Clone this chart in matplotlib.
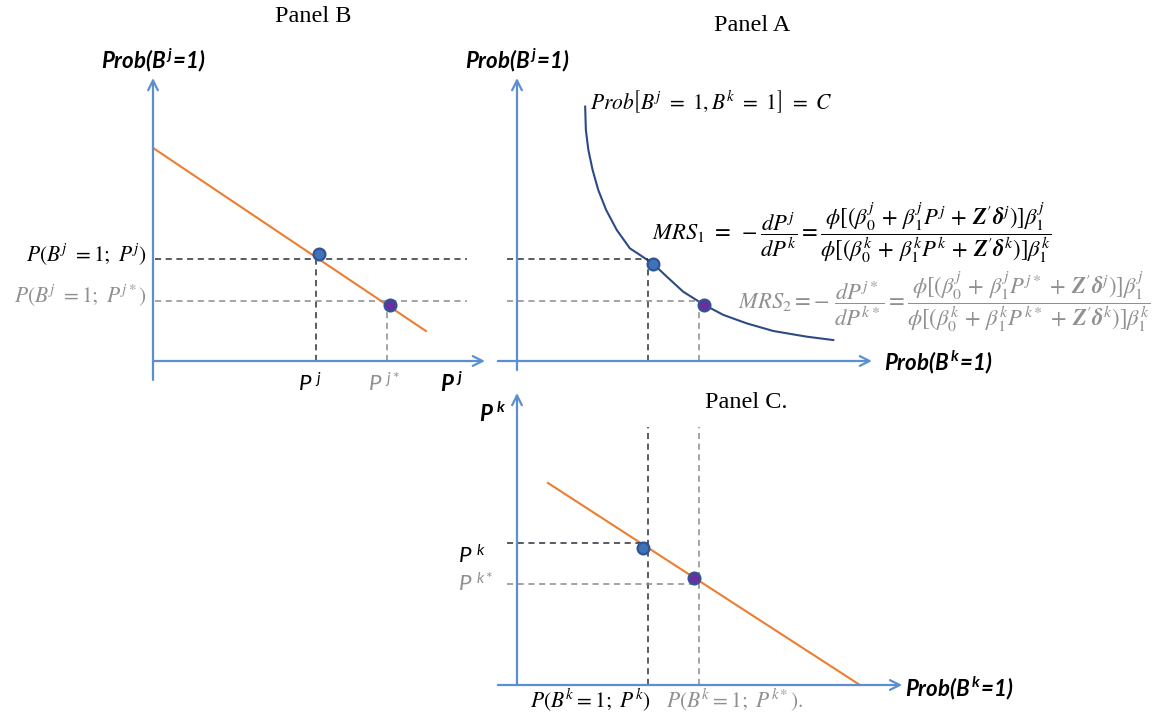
import numpy as np
import matplotlib
matplotlib.use("Agg")
import matplotlib.pyplot as plt

plt.rcParams['mathtext.fontset'] = 'custom'
plt.rcParams['mathtext.it'] = 'Lato:italic'
plt.rcParams['mathtext.rm'] = 'Lato'
plt.rcParams['mathtext.bf'] = 'Lato:bold:italic'

# ---- data (panel units, origin = where the two axes cross) ----
# Panel B: demand curve for good j
demand_j_x = [0.0, 8.22]
demand_j_y = [7.53, 1.06]
price_j = [4.91, 7.05]           # P^j, P^j*
prob_j = [3.60, 2.13]            # P(B^j=1; P^j), P(B^j=1; P^j*)
dots_b_x = [5.00, 7.14]
dots_b_y = [3.78, 1.98]

# Panel A: iso-probability curve Prob[B^j=1, B^k=1] = C
iso_x = [1.92, 1.94, 2.01, 2.13, 2.29, 2.51, 2.81, 3.18, 3.46, 3.84, 4.22,
         4.68, 5.25, 5.81, 6.47, 7.22, 8.16, 8.91]
iso_y = [8.99, 8.16, 7.46, 6.75, 6.04, 5.34, 4.63, 3.98, 3.75, 3.43, 2.98,
         2.45, 2.00, 1.63, 1.33, 1.06, 0.86, 0.74]
prob_k = [3.70, 5.14]            # P(B^k=1; P^k), P(B^k=1; P^k*)
dots_a_x = [3.83, 5.27]
dots_a_y = [3.43, 1.98]

# Panel C: demand curve for good k
demand_k_x = [0.87, 9.66]
demand_k_y = [6.92, 0.0]
price_k = [4.86, 3.46]           # P^k, P^k*
dots_c_x = [3.55, 4.99]
dots_c_y = [4.69, 3.66]

# ---- styling ----
W, H = 1163, 715
axis_col = '#5B8FD0'
orange = '#ED7D31'
navy = '#2C4A86'
dark = '#2A2F3A'
grey = '#8C8C8C'
grey_txt = '#909090'
dot_fill = ['#3F72B8', '#6A2E9E']
dot_edge = '#2F5597'

fig = plt.figure(figsize=(W / 100, H / 100), dpi=100)


def panel(ox, oy, ux, uy):
    # axes whose (0,0) sits at pixel (ox, oy) and 10 units span 10*ux / 10*uy pixels
    ax = fig.add_axes([ox / W, (H - oy) / H, 10 * ux / W, 10 * uy / H])
    ax.set_xlim(0, 10)
    ax.set_ylim(0, 10)
    ax.axis('off')
    return ax


def arrow_axis(ax, start, end):
    ax.annotate('', xy=end, xytext=start, annotation_clip=False,
                arrowprops=dict(arrowstyle='->,head_length=0.7,head_width=0.35',
                                color=axis_col, lw=1.6, shrinkA=0, shrinkB=0))


def dashed(ax, xs, ys, col):
    ax.plot(xs, ys, color=col, lw=1.1, ls=(0, (4, 3)), clip_on=False)


def dots(ax, xs, ys):
    for x, y, c in zip(xs, ys, dot_fill):
        ax.plot(x, y, 'o', ms=8.5, mfc=c, mec=dot_edge, mew=1.6, clip_on=False, zorder=5)


stix = dict(math_fontfamily='stix')
LAB = 16      # calibri-like labels
MATH = 15.5   # cambria-like labels
MRS = 16.3    # the two MRS formulas
TTL = 17.5    # panel titles

# ---------------- Panel B ----------------
axB = panel(153, 361, 33.2, 28.3)
arrow_axis(axB, (0, 0), (10, 0))
arrow_axis(axB, (0, -0.67), (0, 10))
axB.plot(demand_j_x, demand_j_y, color=orange, lw=1.5, clip_on=False)
for i, col in enumerate([dark, grey]):
    dashed(axB, [0.06, 9.46], [prob_j[i], prob_j[i]], col)
    dashed(axB, [price_j[i], price_j[i]], [0, prob_j[i]], col)
dots(axB, dots_b_x, dots_b_y)
axB.text(4.82, 12.19, 'Panel B', family='Liberation Serif', fontsize=TTL,
         ha='center', va='center')
axB.text(0, 10.64, r'$\mathbf{Prob(B^{\,j}\!=\!1)}$', fontsize=LAB,
         ha='center', va='center')
axB.text(-0.18, 3.74, r'$P(B^j\ =1;\ P^j)$', fontsize=MATH, ha='right', va='center', **stix)
axB.text(-0.18, 2.30, r'$P(B^j\ =1;\ P^{j*})$', fontsize=MATH, ha='right', va='center',
         color=grey_txt, **stix)
axB.text(4.73, -0.80, r'$P^{\ j}$', fontsize=LAB, ha='center', va='center')
axB.text(6.96, -0.80, r'$P^{\ j*}$', fontsize=LAB, ha='center', va='center', color=grey_txt)
axB.text(9.0, -0.80, r'$\mathbf{P^{\ j}}$', fontsize=LAB, ha='center', va='center')

# ---------------- Panel A ----------------
axA = panel(517, 361, 35.5, 28.3)
arrow_axis(axA, (-0.54, 0), (10, 0))
arrow_axis(axA, (0, -0.32), (0, 10))
axA.plot(iso_x, iso_y, color=navy, lw=1.5, clip_on=False, solid_joinstyle='round')
for i, col in enumerate([dark, grey]):
    dashed(axA, [-0.28, prob_k[i]], [prob_j[i], prob_j[i]], col)
    dashed(axA, [prob_k[i], prob_k[i]], [0, prob_j[i]], col)
dots(axA, dots_a_x, dots_a_y)
axA.text(6.62, 11.84, 'Panel A', family='Liberation Serif', fontsize=TTL,
         ha='center', va='center')
axA.text(0, 10.64, r'$\mathbf{Prob(B^{\,j}\!=\!1)}$', fontsize=LAB,
         ha='center', va='center')
axA.text(10.34, -0.03, r'$\mathbf{Prob(B^{\,k}\!=\!1)}$', fontsize=LAB,
         ha='left', va='center')
axA.text(2.06, 9.15, r'$Prob\left[B^j\ =\ 1,B^k\ =\ 1\right]\ =\ C$', fontsize=MATH,
         ha='left', va='center', **stix)
mrs1 = (r'$MRS_1\ =\ -\dfrac{dP^j}{dP^k}=\dfrac{\phi[(\beta_0^j\,+\,\beta_1^jP^j\,+\,'
        r'\boldsymbol{Z}^{\prime}\boldsymbol{\delta}^j)]\beta_1^j}'
        r'{\phi[(\beta_0^k\,+\,\beta_1^kP^k\,+\,\boldsymbol{Z}^{\prime}\boldsymbol{\delta}^k)]\beta_1^k}$')
mrs2 = (r'$MRS_2=-\ \dfrac{dP^{j*}}{dP^{k*}}=\dfrac{\phi[(\beta_0^j\,+\,\beta_1^jP^{j*}\,+\,'
        r'\boldsymbol{Z}^{\prime}\boldsymbol{\delta}^j)]\beta_1^j}'
        r'{\phi[(\beta_0^k\,+\,\beta_1^kP^{k*}\,+\,\boldsymbol{Z}^{\prime}\boldsymbol{\delta}^k)]\beta_1^k}$')
axA.text(3.80, 4.52, mrs1, fontsize=MRS, ha='left', va='center', **stix)
axA.text(6.23, 2.08, mrs2, fontsize=MRS, ha='left', va='center', color=grey_txt, **stix)

# ---------------- Panel C ----------------
axC = panel(517, 685, 35.5, 29.2)
arrow_axis(axC, (-0.54, 0), (10.85, 0))
arrow_axis(axC, (0, 0), (0, 10))
axC.plot(demand_k_x, demand_k_y, color=orange, lw=1.5, clip_on=False)
for i, col in enumerate([dark, grey]):
    dashed(axC, [-0.28, prob_k[i]], [price_k[i], price_k[i]], col)
    dashed(axC, [prob_k[i], prob_k[i]], [0, 8.84], col)
dots(axC, dots_c_x, dots_c_y)
axC.text(6.45, 9.66, 'Panel C.', family='Liberation Serif', fontsize=TTL,
         ha='center', va='center')
axC.text(-0.7, 9.3, r'$\mathbf{P^{\ k}}$', fontsize=LAB, ha='center', va='center')
axC.text(-1.66, 4.45, r'$P^{\ k}$', fontsize=LAB, ha='left', va='center')
axC.text(-1.66, 3.49, r'$P^{\ k*}$', fontsize=LAB, ha='left', va='center', color=grey_txt)
axC.text(10.93, -0.1, r'$\mathbf{Prob(B^{\,k}\!=\!1)}$', fontsize=LAB,
         ha='left', va='center')
axC.text(0.37, -0.51, r'$P(B^k=1;\ P^k)$', fontsize=MATH, ha='left', va='center', **stix)
axC.text(4.20, -0.51, r'$P(B^k=1;\ P^{k*}).$', fontsize=MATH, ha='left', va='center',
         color=grey_txt, **stix)

fig.savefig('out.png', dpi=100)
